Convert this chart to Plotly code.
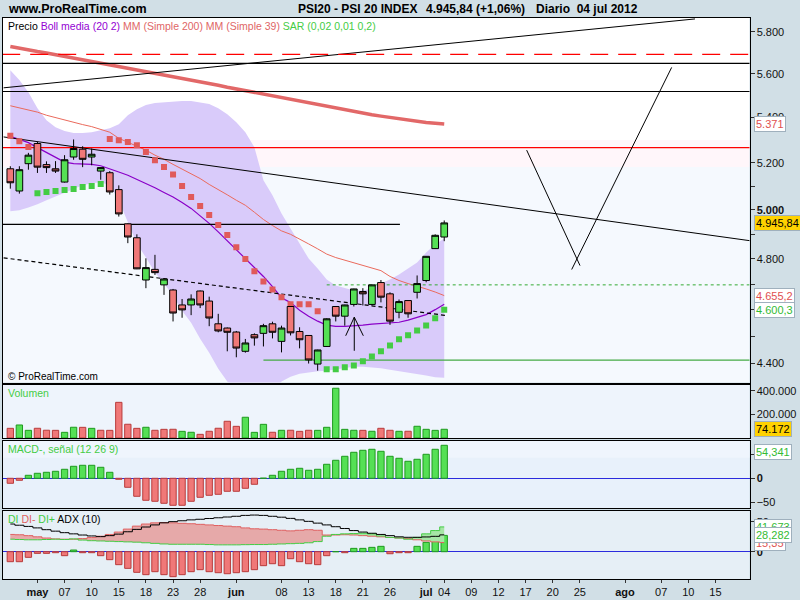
import math
import plotly.graph_objects as go

# ---------------- data ----------------
dates = ["2012-04-26", "2012-04-27", "2012-04-30", "2012-05-02", "2012-05-03", "2012-05-04",
         "2012-05-07", "2012-05-08", "2012-05-09", "2012-05-10", "2012-05-11", "2012-05-14",
         "2012-05-15", "2012-05-16", "2012-05-17", "2012-05-18", "2012-05-21", "2012-05-22",
         "2012-05-23", "2012-05-24", "2012-05-25", "2012-05-28", "2012-05-29", "2012-05-30",
         "2012-05-31", "2012-06-01", "2012-06-04", "2012-06-05", "2012-06-06", "2012-06-07",
         "2012-06-08", "2012-06-11", "2012-06-12", "2012-06-13", "2012-06-14", "2012-06-15",
         "2012-06-18", "2012-06-19", "2012-06-20", "2012-06-21", "2012-06-22", "2012-06-25",
         "2012-06-26", "2012-06-27", "2012-06-28", "2012-06-29", "2012-07-02", "2012-07-03",
         "2012-07-04"]

open_ = [5174, 5079, 5196, 5284, 5192, 5174, 5117, 5225, 5259, 5225, 5164, 5157, 5085, 4942, 4885,
         4716, 4758, 4697, 4677, 4619, 4619, 4673, 4634, 4547, 4531, 4516, 4444, 4506, 4511, 4547,
         4481, 4613, 4518, 4503, 4397, 4462, 4613, 4576, 4621, 4671, 4621, 4706, 4662, 4591, 4636,
         4668, 4714, 4841, 4888]
high = [5185, 5185, 5243, 5291, 5206, 5207, 5233, 5302, 5272, 5262, 5180, 5164, 5103, 4944, 4899,
        4802, 4816, 4721, 4681, 4642, 4660, 4675, 4651, 4585, 4533, 4520, 4490, 4511, 4547, 4555,
        4540, 4614, 4534, 4504, 4450, 4568, 4615, 4620, 4682, 4684, 4698, 4716, 4668, 4640, 4637,
        4734, 4811, 4899, 4956]
low = [5089, 5068, 5170, 5156, 5156, 5156, 5115, 5213, 5181, 5189, 5127, 5064, 4972, 4863, 4759,
       4684, 4736, 4658, 4556, 4570, 4580, 4607, 4538, 4515, 4444, 4422, 4439, 4465, 4462, 4492,
       4440, 4503, 4455, 4399, 4373, 4460, 4556, 4540, 4613, 4617, 4617, 4629, 4543, 4568, 4570,
       4644, 4707, 4840, 4871]
close = [5114, 5170, 5233, 5181, 5179, 5164, 5213, 5262, 5215, 5237, 5179, 5075, 4983, 4888, 4760,
         4765, 4745, 4720, 4588, 4600, 4642, 4619, 4569, 4520, 4515, 4456, 4475, 4494, 4540, 4515,
         4531, 4513, 4487, 4412, 4449, 4566, 4576, 4619, 4681, 4662, 4697, 4649, 4557, 4632, 4585,
         4702, 4810, 4895, 4945.84]

boll_upper = [5617, 5571, 5515, 5442, 5388, 5356, 5339, 5330, 5330, 5334, 5343, 5352, 5370, 5410,
              5437, 5456, 5465, 5469, 5472, 5474, 5474, 5469, 5461, 5442, 5415, 5379, 5334, 5268,
              5125, 5061, 4985, 4923, 4862, 4801, 4761, 4718, 4694, 4683, 4675, 4675, 4683, 4702,
              4718, 4738, 4761, 4785, 4825, 4858, 4882]
boll_lower = [4994, 4998, 5010, 5023, 5040, 5056, 5073, 5090, 5103, 5112, 5116, 5103, 5040, 4948,
              4862, 4805, 4746, 4702, 4655, 4597, 4551, 4491, 4439, 4380, 4334, 4305, 4291, 4280,
              4280, 4291, 4334, 4351, 4362, 4367, 4371, 4373, 4378, 4384, 4387, 4387, 4385, 4382,
              4376, 4371, 4365, 4362, 4355, 4349, 4347]
boll_mid = [5316, 5302, 5288, 5266, 5246, 5224, 5203, 5196, 5196, 5193, 5187, 5175, 5160, 5146,
            5129, 5112, 5093, 5073, 5054, 5031, 5006, 4975, 4944, 4909, 4872, 4836, 4801, 4765,
            4730, 4690, 4647, 4628, 4599, 4576, 4557, 4542, 4537, 4537, 4539, 4542, 4546, 4548,
            4549, 4553, 4561, 4570, 4582, 4601, 4622]
mm200 = [5729, 5720, 5713, 5705, 5698, 5690, 5682, 5675, 5667, 5660, 5651, 5643, 5634, 5626, 5617,
         5610, 5602, 5595, 5587, 5580, 5572, 5563, 5555, 5547, 5538, 5530, 5521, 5513, 5505, 5497,
         5488, 5481, 5473, 5465, 5457, 5450, 5442, 5434, 5427, 5419, 5412, 5406, 5400, 5393, 5387,
         5382, 5377, 5374, 5371]
mm39 = [5453, 5444, 5435, 5424, 5410, 5399, 5388, 5379, 5368, 5359, 5347, 5334, 5307, 5290, 5272,
        5255, 5233, 5215, 5193, 5172, 5150, 5132, 5107, 5086, 5063, 5040, 5019, 4990, 4960, 4935,
        4913, 4899, 4878, 4860, 4840, 4819, 4805, 4795, 4785, 4773, 4763, 4753, 4730, 4714, 4702,
        4692, 4681, 4669, 4655.2]
sar = [5318, 5294, 5269, 5070, 5075, 5079, 5083, 5087, 5096, 5100, 5109, 5304, 5298, 5291, 5276,
       5247, 5211, 5182, 5149, 5100, 5054, 5016, 4978, 4937, 4896, 4847, 4799, 4751, 4710, 4679,
       4649, 4622, 4622, 4622, 4595, 4378, 4378, 4385, 4392, 4407, 4425, 4444, 4466, 4489, 4504,
       4522, 4541, 4568, 4600.3]

volume = [82400, 110900, 65200, 82700, 66100, 65300, 48200, 91400, 90800, 82300, 65800, 65100,
          303500, 116900, 82100, 91300, 65600, 73800, 74300, 56800, 48700, 31200, 57300, 82900,
          142400, 99200, 176500, 48100, 116300, 48800, 65400, 65900, 56600, 65700, 65200, 91000,
          423400, 73600, 65800, 65300, 57200, 82500, 65600, 56900, 57400, 99800, 73900, 65100, 74172]

macd_hist = [-10.5, -4.2, 6.3, 10.5, 12.6, 14.7, 18.9, 25.2, 27.3, 27.3, 23.1, 12.6, -2.1, -18.9,
             -37.8, -46.2, -48.3, -52.5, -56.7, -56.7, -48.3, -39.9, -35.7, -33.6, -27.3, -27.3,
             -21.0, -12.6, 0.3, 6.3, 14.7, 18.9, 21.0, 16.8, 18.9, 29.4, 37.8, 46.2, 54.6, 58.8,
             60.9, 56.7, 46.2, 42.0, 35.7, 39.9, 50.4, 60.9, 69.3]

adx = [46.5, 44.5, 42.5, 40.0, 37.0, 34.5, 32.0, 30.0, 28.0, 26.5, 25.3, 27.0, 29.5, 33.5, 37.5,
       41.5, 45.0, 48.5, 50.5, 52.0, 53.5, 54.5, 55.8, 57.0, 58.3, 59.5, 61.0, 61.6, 61.0, 59.5,
       58.0, 56.0, 53.5, 51.0, 48.0, 45.0, 42.0, 39.0, 35.5, 33.0, 31.0, 29.0, 27.0, 25.0, 24.2,
       24.2, 24.8, 25.8, 28.282]
di_minus = [29.0, 28.5, 27.0, 25.0, 23.0, 21.5, 21.0, 21.0, 22.0, 24.0, 26.0, 29.0, 33.0, 38.0,
            43.0, 46.5, 48.5, 49.0, 48.5, 47.7, 47.0, 46.0, 45.0, 44.0, 43.0, 42.0, 40.0, 38.5,
            38.0, 37.0, 36.0, 35.0, 36.0, 37.0, 36.0, 28.0, 28.0, 28.5, 28.0, 27.0, 26.0, 25.0,
            24.0, 23.0, 22.0, 20.0, 18.0, 16.5, 15.35]
di_plus = [21.0, 20.5, 20.0, 20.0, 20.5, 21.0, 20.5, 21.5, 19.5, 18.5, 18.0, 17.5, 17.0, 16.5,
           16.0, 15.0, 14.0, 13.0, 12.5, 12.5, 12.5, 12.5, 12.0, 11.5, 11.5, 11.5, 11.8, 12.0,
           12.0, 12.5, 13.0, 13.5, 14.0, 15.0, 17.0, 26.0, 29.0, 30.0, 30.5, 31.0, 30.0, 26.5,
           24.0, 23.0, 21.0, 24.0, 30.0, 35.5, 41.673]
adx_hist = [-16.8, -16.8, -9.5, -2.8, -2.8, -1.7, -6.7, 2.8, -1.7, -1.7, -6.7, -13.4, -21.8, -28.0,
            -34.7, -38.6, -33.6, -38.6, -42.0, -38.6, -33.6, -30.2, -33.6, -35.3, -37.0, -35.3,
            -33.6, -30.2, -23.5, -20.2, -23.5, -11.8, -16.8, -20.2, -21.8, -6.7, 0.0, -1.7, 5.6,
            5.6, 7.3, 9.0, -3.4, -1.7, -1.7, 9.0, 15.7, 24.0, 27.4]

tick_pos = [3, 6, 9, 12, 15, 18, 21, 25, 30, 33, 36, 39, 42, 46, 48, 51, 54, 57, 60, 63, 68, 72, 75, 78]
tick_text = ["<b>may</b>", "07", "10", "15", "18", "23", "28", "<b>jun</b>", "08", "13", "18", "21",
             "26", "<b>jul</b>", "04", "09", "12", "17", "20", "25", "<b>ago</b>", "07", "10", "15"]

price_ticks = [4400, 4500, 4600, 4700, 4800, 4900, 5000, 5100, 5200, 5400, 5600, 5800]
price_tick_text = ["4.400", "", "4.600", "", "4.800", "", "<b>5.000</b>", "", "5.200", "5.400", "5.600", "5.800"]
macd_ticks = [-50, 0, 50]
macd_tick_text = ["\u221250", "<b>0</b>", "50"]

# user-drawn lines: (x in bar index, price)
drawn_lines = [
    ([-0.74, 75.74], [5535, 5862], "black", "solid", 1),
    ([-0.9, 82], [5691, 5691], "#ff0000", "18px,10px", 1.3),
    ([-0.9, 82], [5649, 5649], "black", "solid", 1.2),
    ([-0.9, 82], [5518, 5518], "black", "solid", 1.2),
    ([-0.9, 82], [5266, 5266], "#ff0000", "solid", 1.3),
    ([-0.74, 81.82], [5313, 4873], "black", "solid", 1),
    ([-0.9, 43.1], [4940, 4940], "black", "solid", 1.3),
    ([-0.74, 48.1], [4804, 4579], "black", "4px,3px", 1.2),
    ([35.0, 82], [4697, 4697], "#33aa33", "3px,3px", 1),
    ([28.0, 82], [4411.5, 4411.5], "#44aa44", "solid", 1.2),
    ([37.1, 38.05, 39.05, None, 38.05, 38.05], [4502, 4572, 4502, None, 4572, 4446], "black", "solid", 1),
    ([57.12, 63.02], [5255, 4773], "black", "solid", 1),
    ([62.10, 73.16], [4757.5, 5630], "black", "solid", 1),
]

# ---------------- figure ----------------
W, H = 800, 600
FONT = "Arial, 'Liberation Sans', sans-serif"
GREEN = "#55e055"
RED = "#f07878"
x = list(range(len(dates)))
X_RANGE = [-0.81, 81.77]
Y_RANGE = [math.log10(4330), math.log10(5869)]
MACD_RANGE = [-62.4, 78.3]


def dom_y(top_px, bot_px):
    return [1 - bot_px / H, 1 - top_px / H]


XDOM = [3 / W, 749.5 / W]

fig = go.Figure()

# Bollinger band
fig.add_trace(go.Scatter(x=x, y=boll_upper, mode="lines", line=dict(width=0, color="#d9cbfa"),
                         xaxis="x", yaxis="y", hoverinfo="skip"))
fig.add_trace(go.Scatter(x=x, y=boll_lower, mode="lines", line=dict(width=0, color="#d9cbfa"),
                         fill="tonexty", fillcolor="#d9cbfa", xaxis="x", yaxis="y", hoverinfo="skip"))
# Moving averages
fig.add_trace(go.Scatter(x=x, y=mm200, mode="lines", line=dict(width=3.5, color="#e26868"),
                         xaxis="x", yaxis="y", hoverinfo="skip"))
fig.add_trace(go.Scatter(x=x, y=mm39, mode="lines", line=dict(width=1, color="#ea6a5c"),
                         xaxis="x", yaxis="y", hoverinfo="skip"))
fig.add_trace(go.Scatter(x=x, y=boll_mid, mode="lines", line=dict(width=1.2, color="#8a00c8"),
                         xaxis="x", yaxis="y", hoverinfo="skip"))
# drawn lines
for lx, ly, col, dash, wdt in drawn_lines:
    fig.add_trace(go.Scatter(x=lx, y=ly, mode="lines", line=dict(color=col, dash=dash, width=wdt),
                             xaxis="x", yaxis="y", hoverinfo="skip", connectgaps=False))
# SAR
sar_colors = ["#e05a5a" if s > c else "#44cc44" for s, c in zip(sar, close)]
fig.add_trace(go.Scatter(x=x, y=sar, mode="markers",
                         marker=dict(symbol="square", size=6, color=sar_colors, line=dict(width=0)),
                         xaxis="x", yaxis="y", hoverinfo="skip"))
# Candles (on an overlaying axis so they are drawn above the band fill)
fig.add_trace(go.Candlestick(x=x, open=open_, high=high, low=low, close=close,
                             increasing=dict(fillcolor=GREEN, line=dict(color="black", width=1)),
                             decreasing=dict(fillcolor=RED, line=dict(color="black", width=1)),
                             whiskerwidth=0, xaxis="x", yaxis="y5", hoverinfo="skip"))

# Volume
vol_fill = [RED] + [GREEN if close[i] >= close[i - 1] else RED for i in range(1, len(close))]
vol_line = ["#b83c3c" if c == RED else "#1f9a1f" for c in vol_fill]
fig.add_trace(go.Bar(x=x, y=volume, width=0.7, marker=dict(color=vol_fill, line=dict(color=vol_line, width=1)),
                     xaxis="x2", yaxis="y2", hoverinfo="skip"))

# MACD histogram
m_fill = [GREEN if v >= 0 else RED for v in macd_hist]
m_line = ["#1f9a1f" if v >= 0 else "#b83c3c" for v in macd_hist]
fig.add_trace(go.Bar(x=x, y=macd_hist, width=0.7, marker=dict(color=m_fill, line=dict(color=m_line, width=1)),
                     xaxis="x3", yaxis="y3", hoverinfo="skip"))

# ADX panel
hi_red = [max(a, b) for a, b in zip(di_minus, di_plus)]
fig.add_trace(go.Scatter(x=x, y=di_plus, mode="lines", line=dict(width=0, shape="hvh"),
                         xaxis="x4", yaxis="y4", hoverinfo="skip"))
fig.add_trace(go.Scatter(x=x, y=hi_red, mode="lines", line=dict(width=0, shape="hvh"), fill="tonexty",
                         fillcolor="#e6a9a9", xaxis="x4", yaxis="y4", hoverinfo="skip"))
fig.add_trace(go.Scatter(x=x, y=di_minus, mode="lines", line=dict(width=0, shape="hvh"),
                         xaxis="x4", yaxis="y4", hoverinfo="skip"))
fig.add_trace(go.Scatter(x=x, y=hi_red, mode="lines", line=dict(width=0, shape="hvh"), fill="tonexty",
                         fillcolor="#a6e6a6", xaxis="x4", yaxis="y4", hoverinfo="skip"))
a_fill = [GREEN if v >= 0 else RED for v in adx_hist]
a_line = ["#1f9a1f" if v >= 0 else "#b83c3c" for v in adx_hist]
fig.add_trace(go.Bar(x=x, y=adx_hist, width=0.7, marker=dict(color=a_fill, line=dict(color=a_line, width=1)),
                     xaxis="x4", yaxis="y4", hoverinfo="skip"))
fig.add_trace(go.Scatter(x=x, y=di_minus, mode="lines", line=dict(width=1, color="#e06060", shape="hvh"),
                         xaxis="x4", yaxis="y4", hoverinfo="skip"))
fig.add_trace(go.Scatter(x=x, y=di_plus, mode="lines", line=dict(width=1, color="#44cc44", shape="hvh"),
                         xaxis="x4", yaxis="y4", hoverinfo="skip"))
fig.add_trace(go.Scatter(x=x, y=adx, mode="lines", line=dict(width=1, color="black", shape="hvh"),
                         xaxis="x4", yaxis="y4", hoverinfo="skip"))

# ---------------- layout ----------------
common_x = dict(range=X_RANGE, domain=XDOM, showgrid=False, zeroline=False, showline=True,
                linecolor="black", linewidth=1, mirror=True, showticklabels=False, ticks="")
common_y = dict(side="right", showgrid=False, showline=True, linecolor="black", linewidth=1, mirror=True,
                ticks="outside", ticklen=4, tickcolor="#333", ticklabeloverflow="allow",
                tickfont=dict(size=11, color="#111", family=FONT))

layout = dict(
    width=W, height=H, margin=dict(l=0, r=0, t=0, b=0),
    paper_bgcolor="#d1dfe6", plot_bgcolor="rgba(0,0,0,0)",
    showlegend=False, hovermode=False, font=dict(family=FONT),
    boxgap=0.14, boxgroupgap=0.14,
    xaxis=dict(common_x, anchor="y", rangeslider=dict(visible=False)),
    xaxis2=dict(common_x, anchor="y2", matches="x"),
    xaxis3=dict(common_x, anchor="y3", matches="x"),
    xaxis4=dict(common_x, anchor="y4", matches="x", showticklabels=True, tickvals=tick_pos,
                ticktext=tick_text, ticks="outside", ticklen=3, tickcolor="#333",
                tickfont=dict(size=11, color="#111", family=FONT)),
    yaxis=dict(common_y, domain=dom_y(17.5, 382.5), anchor="x", type="log",
               range=Y_RANGE, tickvals=price_ticks, ticktext=price_tick_text),
    yaxis5=dict(overlaying="y", anchor="x", type="log", range=Y_RANGE, side="right",
                showgrid=False, showline=False, showticklabels=False, ticks="", zeroline=False),
    yaxis2=dict(common_y, domain=dom_y(385, 438), anchor="x2", range=[0, 451000],
                tickvals=[200000, 400000], ticktext=["200.000", "400.000"], zeroline=False),
    yaxis3=dict(common_y, domain=dom_y(441, 508), anchor="x3", range=MACD_RANGE, tickmode="array",
                tickvals=macd_ticks, ticktext=macd_tick_text, zeroline=True,
                zerolinecolor="#2b2bdd", zerolinewidth=1.3),
    yaxis4=dict(common_y, domain=dom_y(511, 579), anchor="x4", range=[-45.9, 68.4],
                tickvals=[0, 50], ticktext=["<b>0</b>", "50"], zeroline=True,
                zerolinecolor="#2b2bdd", zerolinewidth=1.3),
)

# panel backgrounds
shapes = []
def bg(xref, yref, y0, y1, color):
    shapes.append(dict(type="rect", xref=xref + " domain", yref=yref + " domain", x0=0, x1=1,
                       y0=y0, y1=y1, fillcolor=color, line=dict(width=0), layer="below"))

bg("x", "y", 0.6644, 1, "#ffffff")
bg("x", "y", 0.5904, 0.6644, "#fff6fa")
bg("x", "y", 0, 0.5904, "#f5f9fe")
bg("x2", "y2", 0, 1, "#eef4fc")
bg("x3", "y3", 0.0, 1, "#e8f1fb")
bg("x3", "y3", 0.75, 1, "#eff5fd")
bg("x4", "y4", 0, 1, "#e6eff6")
layout["shapes"] = shapes

ann = []
def text(xp, yp, t, size=11, color="#000", anchor="left", bold=False):
    ann.append(dict(x=xp / W, y=1 - yp / H, xref="paper", yref="paper", text=("<b>%s</b>" % t) if bold else t,
                    showarrow=False, xanchor=anchor, yanchor="middle",
                    font=dict(size=size, color=color, family=FONT)))

text(6, 9, "www.ProRealTime.com", size=12.5, bold=True)
text(296, 9, "PSI20 - PSI 20 INDEX", size=12, bold=True)
text(424, 9, "4.945,84 (+1,06%)", size=12, bold=True)
text(534, 9, "Diario  04 jul 2012", size=12, bold=True)
text(6, 26, "Precio <span style='color:#9400d3'>Boll media (20 2)</span> "
            "<span style='color:#e06666'>MM (Simple 200) MM (Simple 39)</span> "
            "<span style='color:#44cc44'>SAR (0,02 0,01 0,2)</span>", size=10.5)
text(6, 376, "© ProRealTime.com", size=10)
text(6, 393, "Volumen", size=10.5, color="#44cc44")
text(6, 449, "MACD-, señal (12 26 9)", size=10.5, color="#44cc44")
text(6, 519, "<span style='color:#44cc44'>DI</span> <span style='color:#e06060'>DI-</span> "
             "<span style='color:#44cc44'>DI+</span> ADX (10)", size=10.5)


def side_label(t, yval, yref, color, bgc="#ffffff", log=False):
    ann.append(dict(x=754 / W, xref="paper", y=math.log10(yval) if log else yval, yref=yref, text=t,
                    showarrow=False, xanchor="left", yanchor="middle", bgcolor=bgc,
                    bordercolor="#9fb0bd", borderwidth=1, borderpad=1,
                    font=dict(size=11, color=color, family=FONT)))

side_label("5.371", mm200[-1], "y", "#e05050", log=True)
side_label("4.945,84", close[-1], "y", "#000000", bgc="#ffd200", log=True)
side_label("4.655,2", mm39[-1], "y", "#e05050", log=True)
side_label("4.600,3", sar[-1], "y", "#33bb33", log=True)
side_label("74.172", volume[-1], "y2", "#000000", bgc="#ffd200")
side_label("54,341", 54.341, "y3", "#33bb33")
side_label("41,673", di_plus[-1], "y4", "#33bb33")
side_label("15,35", di_minus[-1], "y4", "#e05050")
side_label("28,282", adx[-1], "y4", "#33bb33")
layout["annotations"] = ann

fig.update_layout(**layout)
fig.write_html("out.html", config={"displayModeBar": False},
               post_script="document.body.style.margin='0';document.body.style.overflow='hidden';")
